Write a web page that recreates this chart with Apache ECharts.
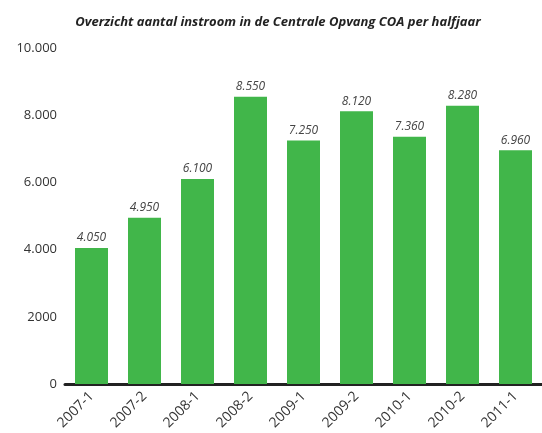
<!DOCTYPE html>
<html>
<head>
<meta charset="utf-8">
<script src="https://cdn.jsdelivr.net/npm/echarts@6/dist/echarts.min.js"></script>
<style>
  html, body { margin: 0; padding: 0; background: #fff; }
  #main { width: 542px; height: 433px; }
</style>
</head>
<body>
<div id="main"></div>
<script>
var periods = ["2007-1", "2007-2", "2008-1", "2008-2", "2009-1", "2009-2", "2010-1", "2010-2", "2011-1"];
var instroom = [4050, 4950, 6100, 8550, 7250, 8120, 7360, 8280, 6960];
var yTickLabels = { 0: "0", 2000: "2000", 4000: "4.000", 6000: "6.000", 8000: "8.000", 10000: "10.000" };

function dotted(v) {
  return String(v).replace(/\B(?=(\d{3})+(?!\d))/g, ".");
}

var myChart = echarts.init(document.getElementById("main"));
myChart.setOption({
  animation: false,
  title: {
    text: "Overzicht aantal instroom in de Centrale Opvang COA per halfjaar",
    left: 273,
    textAlign: "center",
    top: 11,
    textStyle: {
      fontFamily: "Open Sans, sans-serif",
      fontStyle: "italic",
      fontWeight: "bold",
      fontSize: 13,
      color: "#222"
    }
  },
  grid: { left: 65, right: -10, top: 48, bottom: 49 },
  xAxis: {
    type: "category",
    data: periods,
    axisLine: { lineStyle: { color: "#222", width: 3 } },
    axisTick: { show: false },
    axisLabel: {
      rotate: 45,
      margin: 10,
      fontSize: 14,
      color: "#333",
      fontFamily: "Open Sans, sans-serif"
    }
  },
  yAxis: {
    type: "value",
    min: 0,
    max: 10000,
    interval: 2000,
    splitLine: { show: false },
    axisLine: { show: false },
    axisTick: { show: false },
    axisLabel: {
      margin: 8,
      fontSize: 13,
      color: "#333",
      fontFamily: "Open Sans, sans-serif",
      formatter: function (v) { return yTickLabels[v]; }
    }
  },
  series: [
    {
      type: "bar",
      data: instroom,
      barWidth: 33,
      itemStyle: { color: "#41b64a" },
      label: {
        show: true,
        position: "top",
        distance: 4,
        fontSize: 12,
        fontStyle: "italic",
        color: "#444",
        fontFamily: "Open Sans, sans-serif",
        formatter: function (p) { return dotted(p.value); }
      }
    }
  ]
});
</script>
</body>
</html>
